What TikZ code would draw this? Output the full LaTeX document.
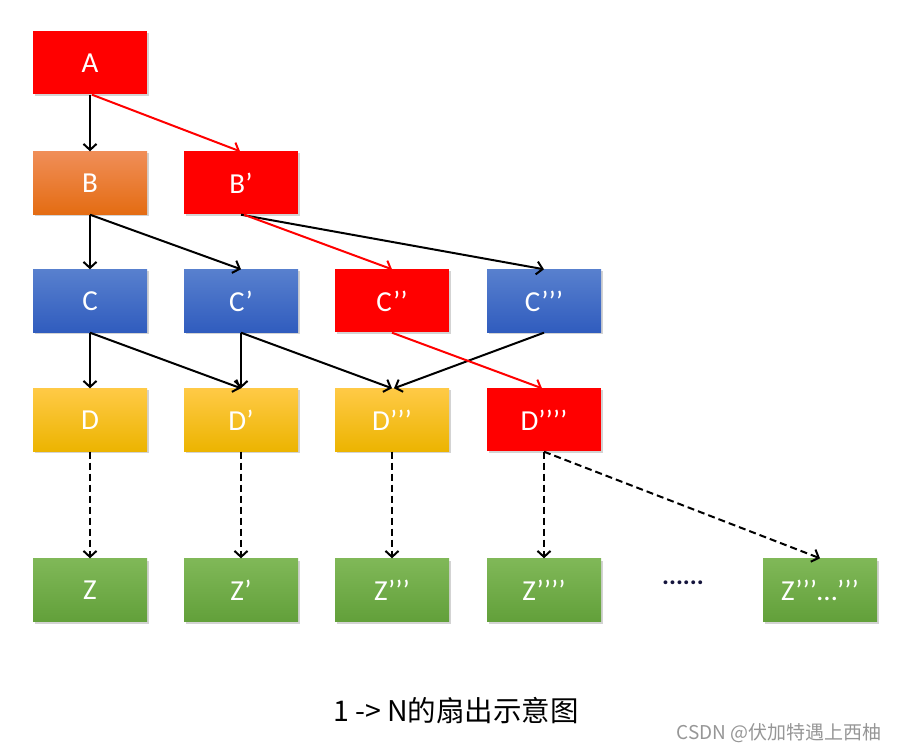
\documentclass[tikz,border=0pt]{standalone}
\usepackage{fontspec}
\setmainfont{Carlito}
\newfontfamily\cjk{Noto Sans CJK SC}
\usetikzlibrary{arrows.meta,shadows}
\definecolor{redf}{RGB}{255,0,0}
\definecolor{orT}{RGB}{240,142,88}
\definecolor{orB}{RGB}{228,108,18}
\definecolor{blT}{RGB}{88,128,206}
\definecolor{blB}{RGB}{48,92,190}
\definecolor{ylT}{RGB}{255,202,70}
\definecolor{ylB}{RGB}{236,180,0}
\definecolor{grT}{RGB}{128,184,88}
\definecolor{grB}{RGB}{98,160,58}
\definecolor{wmgray}{RGB}{150,150,150}
\tikzset{
  box/.style={minimum width=114pt,minimum height=63pt,inner sep=0pt,
    text=white,font=\fontsize{29}{29}\selectfont,
    drop shadow={shadow xshift=1.5pt,shadow yshift=-2pt,opacity=0.35}},
  redbox/.style={box,fill=redf},
  orbox/.style={box,top color=orT,bottom color=orB},
  blbox/.style={box,top color=blT,bottom color=blB},
  ylbox/.style={box,top color=ylT,bottom color=ylB},
  grbox/.style={box,top color=grT,bottom color=grB},
  conn/.style={line width=2pt,-{Straight Barb[length=6pt,width=13pt,line width=2pt]}},
  redconn/.style={conn,draw=redf},
  dashconn/.style={conn,dash pattern=on 7pt off 4pt}
}
\begin{document}
\begin{tikzpicture}[x=1pt,y=-1pt]
\useasboundingbox (0,0) rectangle (898,751);
% row A
\node[redbox] (A) at (90,63) {A};
% row B
\node[orbox] (B) at (90,183) {B};
\node[redbox] (Bp) at (241,183) {B’};
% row C
\node[blbox] (C) at (90,301) {C};
\node[blbox] (Cp) at (241,301) {C’};
\node[redbox] (Cpp) at (392,301) {C’’};
\node[blbox] (Cppp) at (544,301) {C’’’};
% row D
\node[ylbox] (D) at (90,420) {D};
\node[ylbox] (Dp) at (241,420) {D’};
\node[ylbox] (Dppp) at (392,420) {D’’’};
\node[redbox] (Dpppp) at (544,420) {D’’’’};
% row Z
\node[grbox] (Z) at (90,590) {Z};
\node[grbox] (Zp) at (241,590) {Z’};
\node[grbox] (Zppp) at (392,590) {Z’’’};
\node[grbox] (Zpppp) at (544,590) {Z’’’’};
\node[grbox] (Zn) at (820,590) {Z’’’…’’’};
\node[font=\fontsize{26}{26}\selectfont\bfseries,text={rgb,255:red,20;green,20;blue,60}] (dots) at (683,583) {......};
% connectors
\draw[conn] (A.south) -- (B.north);
\draw[redconn] ([xshift=2pt]A.south) -- ([xshift=-1pt]Bp.north);
\draw[conn] (B.south) -- (C.north);
\draw[conn] (B.south) -- (Cp.north);
\draw[conn] (Bp.south) -- (Cppp.north);
\draw[redconn] ([xshift=3pt]Bp.south) -- (Cpp.north);
\draw[conn] (C.south) -- (D.north);
\draw[conn] (C.south) -- (Dp.north);
\draw[conn] (Cp.south) -- (Dp.north);
\draw[conn] (Cp.south) -- (Dppp.north);
\draw[conn] (Cppp.south) -- ([xshift=2pt]Dppp.north);
\draw[redconn] (Cpp.south) -- ([xshift=-2pt]Dpppp.north);
\draw[dashconn] (D.south) -- (Z.north);
\draw[dashconn] (Dp.south) -- (Zp.north);
\draw[dashconn] (Dppp.south) -- (Zppp.north);
\draw[dashconn] (Dpppp.south) -- (Zpppp.north);
\draw[dashconn] (Dpppp.south) -- (Zn.north);
% captions
\node[font=\cjk\fontsize{28.5}{28.5}\selectfont,anchor=center] (cap) at (456,711) {1 -> N的扇出示意图};
\node[font=\cjk\fontsize{19}{19}\selectfont,text=wmgray,anchor=east] (wm) at (885,733) {CSDN @伏加特遇上西柚};
\end{tikzpicture}
\end{document}
